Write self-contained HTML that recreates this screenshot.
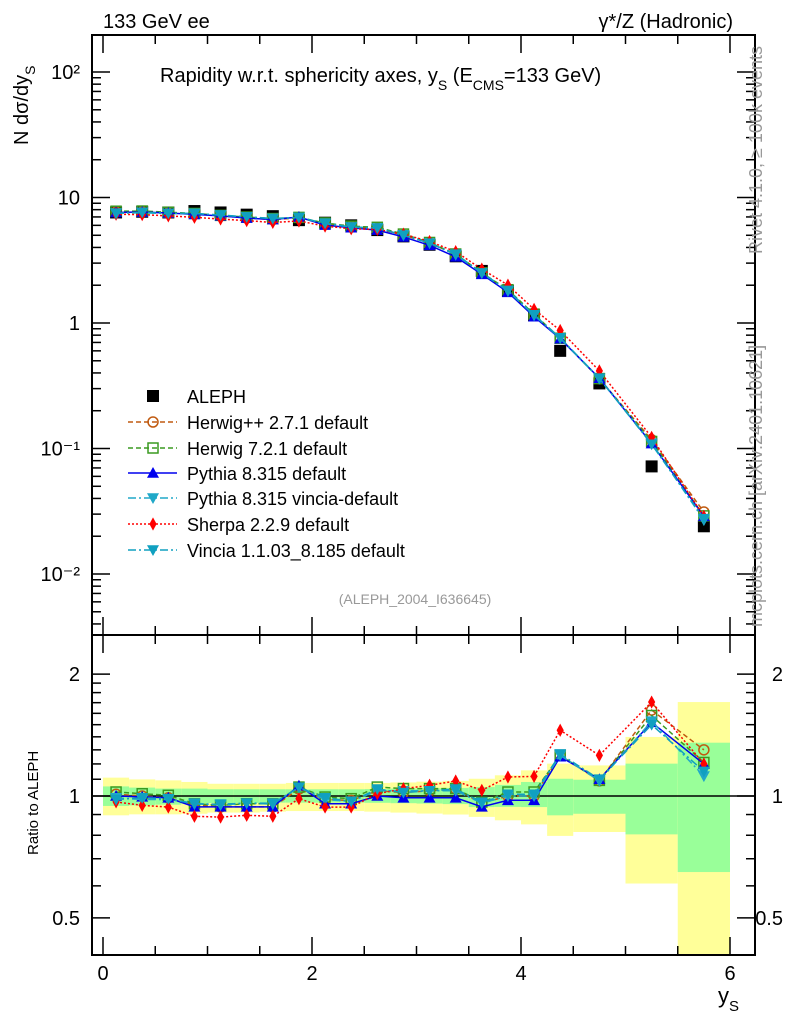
<!DOCTYPE html>
<html><head><meta charset="utf-8">
<style>
html,body{margin:0;padding:0;background:#fff;}
svg{display:block;font-family:"Liberation Sans",Arial,sans-serif;}
</style></head>
<body>
<svg id="chart" width="786" height="1024" viewBox="0 0 786 1024" xmlns="http://www.w3.org/2000/svg">
<g id="bands"></g>
<g id="frames"></g>
<g id="series"></g>
<g id="legend"></g>
<text x="103" y="28" font-size="20">133 GeV ee</text>
<text x="733" y="28" font-size="20" text-anchor="end">γ*/Z (Hadronic)</text>
<text x="160" y="82" font-size="20">Rapidity w.r.t. sphericity axes, y<tspan font-size="14" dy="8">S</tspan><tspan dy="-8"> (E</tspan><tspan font-size="14" dy="8">CMS</tspan><tspan dy="-8">=133 GeV)</tspan></text>
<text x="415" y="604" font-size="14" fill="#999" text-anchor="middle">(ALEPH_2004_I636645)</text>
<text transform="translate(28,145) rotate(-90)" font-size="20">N  dσ/dy<tspan font-size="14" dy="7">S</tspan></text>
<text transform="translate(38,855) rotate(-90)" font-size="15">Ratio to ALEPH</text>
<text x="718" y="1003" font-size="22">y<tspan font-size="15" dy="8">S</tspan></text>
<text transform="translate(762,254) rotate(-90)" font-size="18" fill="#999">Rivet 4.1.0, ≥ 100k events</text>
<text transform="translate(762,627) rotate(-90)" font-size="18" fill="#999">mcplots.cern.ch [arXiv:2401.10621]</text>
</svg>
<script>
const xCenters=[0.125,0.375,0.625,0.875,1.125,1.375,1.625,1.875,2.125,2.375,2.625,2.875,3.125,3.375,3.625,3.875,4.125,4.375,4.75,5.25,5.75];
const binEdges=[0,0.25,0.5,0.75,1,1.25,1.5,1.75,2,2.25,2.5,2.75,3,3.25,3.5,3.75,4,4.25,4.5,5,5.5,6];
const alephValues=[7.6,7.7,7.6,7.8,7.6,7.3,7.1,6.6,6.3,6.0,5.5,4.9,4.2,3.4,2.6,1.8,1.15,0.6,0.33,0.072,0.024];
const totalUp=[1.110,1.099,1.093,1.083,1.072,1.072,1.072,1.077,1.077,1.077,1.077,1.080,1.085,1.090,1.103,1.125,1.157,1.202,1.190,1.399,1.706];
const totalDown=[0.896,0.901,0.901,0.904,0.910,0.910,0.915,0.918,0.918,0.918,0.915,0.910,0.905,0.900,0.888,0.871,0.851,0.797,0.815,0.608,0.403];
const statUp=[1.056,1.049,1.043,1.043,1.039,1.039,1.039,1.039,1.039,1.039,1.040,1.043,1.045,1.047,1.052,1.065,1.083,1.103,1.097,1.202,1.354];
const statDown=[0.945,0.948,0.952,0.957,0.961,0.961,0.963,0.963,0.963,0.963,0.962,0.960,0.958,0.955,0.939,0.940,0.939,0.896,0.904,0.804,0.649];
const ratioHerwigPP=[1.01,1.0,0.99,0.95,0.94,0.94,0.94,1.04,0.98,0.975,1.03,1.02,1.03,1.04,0.96,1.0,1.0,1.26,1.09,1.63,1.30];
const ratioHerwig7=[1.023,1.013,1.004,0.957,0.948,0.957,0.957,1.052,0.994,0.985,1.052,1.043,1.043,1.043,0.966,1.023,1.023,1.26,1.093,1.58,1.21];
const ratioPythia=[1.0,0.995,0.99,0.94,0.94,0.94,0.94,1.06,0.957,0.957,1.0,0.99,0.99,0.99,0.94,0.976,0.976,1.25,1.10,1.52,1.20];
const ratioPythiaVincia=[0.99,0.98,0.98,0.96,0.95,0.96,0.96,1.05,0.98,0.97,1.03,1.03,1.03,1.03,0.96,1.0,1.0,1.26,1.09,1.53,1.12];
const ratioSherpa=[0.967,0.948,0.939,0.891,0.887,0.896,0.891,0.985,0.939,0.939,1.013,1.042,1.063,1.089,1.033,1.114,1.118,1.453,1.26,1.706,1.20];
const ratioVincia=[0.98,0.99,0.985,0.955,0.955,0.96,0.955,1.05,0.99,0.97,1.04,1.02,1.03,1.04,0.965,1.01,1.01,1.27,1.10,1.50,1.15];
const xTicks=[0,2,4,6];
const mainTickLabels=[["10⁻²",-2],["10⁻¹",-1],["1",0],["10",1],["10²",2]];
const ratioTickLabels=[0.5,1,2];

const NS="http://www.w3.org/2000/svg";
const L=92,R=755,T=35,MB=635,B=955;
const X=v=>103+v*104.5;
const Y=v=>323-125.5*Math.log10(v);
const YR=v=>796-405*Math.log10(v);
function mk(tag,attrs,parent){const e=document.createElementNS(NS,tag);for(const k in attrs)e.setAttribute(k,attrs[k]);parent.appendChild(e);return e;}
const bands=document.getElementById('bands'),frames=document.getElementById('frames'),series=document.getElementById('series'),legend=document.getElementById('legend');
function cy(y){return Math.max(MB,Math.min(B,y));}
for(let i=0;i<xCenters.length;i++){
 const x0=X(binEdges[i]),x1=X(binEdges[i+1]);
 const a=cy(YR(totalUp[i])),b=cy(YR(totalDown[i]));
 const r1=mk('rect',{x:x0,y:a,width:x1-x0,height:b-a,fill:'#ffff99'},bands);
 
 
 const c=cy(YR(statUp[i])),d=cy(YR(statDown[i]));
 const r2=mk('rect',{x:x0,y:c,width:x1-x0,height:d-c,fill:'#99ff99'},bands);
 
 
}
mk('rect',{x:L,y:T,width:R-L,height:MB-T,fill:'none',stroke:'#000','stroke-width':2},frames);
mk('rect',{x:L,y:MB,width:R-L,height:B-MB,fill:'none',stroke:'#000','stroke-width':2},frames);
mk('line',{x1:L,x2:R,y1:YR(1),y2:YR(1),stroke:'#000','stroke-width':1.5},frames);
for(let v=0;v<=6.001;v+=0.5){
 const big=Math.abs(v-Math.round(v/2)*2)<1e-6;const len=big?18:9;const x=X(v);
 [[T,T+len],[MB,MB-len],[MB,MB+len],[B,B-len]].forEach(p=>mk('line',{x1:x,x2:x,y1:p[0],y2:p[1],stroke:'#000','stroke-width':1.5},frames));
}
xTicks.forEach(v=>{const t=mk('text',{x:X(v),y:980,'font-size':20,'text-anchor':'middle'},frames);t.textContent=v;
 
 });
for(let e=-3;e<=2;e++){for(let m=1;m<=9;m++){const v=m*Math.pow(10,e);const y=Y(v);if(y<T||y>MB)continue;const len=m==1?18:9;
 mk('line',{x1:L,x2:L+len,y1:y,y2:y,stroke:'#000','stroke-width':1.5},frames);mk('line',{x1:R,x2:R-len,y1:y,y2:y,stroke:'#000','stroke-width':1.5},frames);}}
mainTickLabels.forEach(p=>{const t=mk('text',{x:80,y:Y(Math.pow(10,p[1]))+7,'font-size':20,'text-anchor':'end'},frames);t.textContent=p[0];
 
 });
[0.5,0.6,0.7,0.8,0.9,1,1.1,1.2,1.3,1.4,1.5,1.6,1.7,1.8,1.9,2].forEach(v=>{const y=YR(v);const len=(v==0.5||v==1||v==2)?18:9;
 mk('line',{x1:L,x2:L+len,y1:y,y2:y,stroke:'#000','stroke-width':1.5},frames);mk('line',{x1:R,x2:R-len,y1:y,y2:y,stroke:'#000','stroke-width':1.5},frames);});
ratioTickLabels.forEach(v=>{const a=mk('text',{x:80,y:YR(v)+7,'font-size':20,'text-anchor':'end'},frames);a.textContent=v;
 
 
 const b=mk('text',{x:783,y:YR(v)+7,'font-size':20,'text-anchor':'end'},frames);b.textContent=v;
 
 });
function marker(type,x,y,col,g,s){
 s=s||6;
 if(type=='sq')return mk('rect',{x:x-s,y:y-s,width:2*s,height:2*s,fill:col},g);
 if(type=='osq')return mk('rect',{x:x-s+1,y:y-s+1,width:2*s-2,height:2*s-2,fill:'none',stroke:col,'stroke-width':1.5},g);
 if(type=='oc')return mk('circle',{cx:x,cy:y,r:s-1,fill:'none',stroke:col,'stroke-width':1.5},g);
 if(type=='tu')return mk('polygon',{points:`${x-s},${y+s*0.8} ${x+s},${y+s*0.8} ${x},${y-s}`,fill:col},g);
 if(type=='td')return mk('polygon',{points:`${x-s},${y-s*0.8} ${x+s},${y-s*0.8} ${x},${y+s}`,fill:col},g);
 if(type=='di')return mk('polygon',{points:`${x},${y-s*1.1} ${x+s*0.6},${y} ${x},${y+s*1.1} ${x-s*0.6},${y}`,fill:col},g);
}
const models=[
 {name:'herwigpp',label:'Herwig++ 2.7.1 default',r:ratioHerwigPP,col:'#c05a10',dash:'5,3',m:'oc'},
 {name:'herwig7',label:'Herwig 7.2.1 default',r:ratioHerwig7,col:'#3a9a20',dash:'5,3',m:'osq'},
 {name:'pythia',label:'Pythia 8.315 default',r:ratioPythia,col:'#0000ee',dash:'',m:'tu'},
 {name:'pythia-vincia',label:'Pythia 8.315 vincia-default',r:ratioPythiaVincia,col:'#20a8c8',dash:'8,3,2,3',m:'td'},
 {name:'sherpa',label:'Sherpa 2.2.9 default',r:ratioSherpa,col:'#ff0000',dash:'2,2',m:'di'},
 {name:'vincia',label:'Vincia 1.1.03_8.185 default',r:ratioVincia,col:'#10a0c0',dash:'8,3,2,3',m:'td'}
];
const dg=mk('g',{},series);


alephValues.forEach((v,i)=>marker('sq',X(xCenters[i]),Y(v),'#000',dg,6));
models.forEach(md=>{
 const g=mk('g',{},series);
 
 
 const mainPts=xCenters.map((x,i)=>[X(x),Y(alephValues[i]*md.r[i])]);
 const ratPts=xCenters.map((x,i)=>[X(x),YR(md.r[i])]);
 [mainPts,ratPts].forEach(pts=>{
  mk('polyline',{points:pts.map(p=>p.join(',')).join(' '),fill:'none',stroke:md.col,'stroke-width':1.5,'stroke-dasharray':md.dash},g);
  pts.forEach(p=>marker(md.m,p[0],p[1],md.col,g,6));
 });
});
const ly=[396,422,448,473,498,524,550];
const l0=mk('g',{},legend);


marker('sq',153,ly[0],'#000',l0,6);
mk('text',{x:187,y:ly[0]+7,'font-size':18},l0).textContent='ALEPH';
models.forEach((md,k)=>{
 const g=mk('g',{},legend);
 
 
 const y=ly[k+1];
 mk('line',{x1:128,x2:177,y1:y,y2:y,stroke:md.col,'stroke-width':1.5,'stroke-dasharray':md.dash},g);
 marker(md.m,153,y,md.col,g,6);
 mk('text',{x:187,y:y+7,'font-size':18},g).textContent=md.label;
});
</script>
</body></html>
